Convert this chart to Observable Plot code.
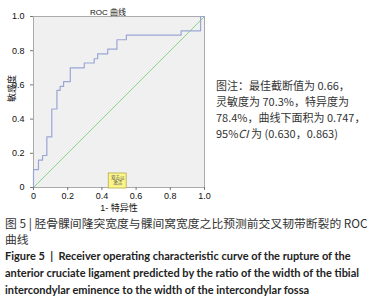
<!DOCTYPE html>
<html><head><meta charset="utf-8">
<script src="https://cdn.jsdelivr.net/npm/d3@7"></script>
<script src="https://cdn.jsdelivr.net/npm/@observablehq/plot@0.6"></script>
<style>
body{margin:0;background:#fff;width:388px;height:296px;overflow:hidden;position:relative;font-family:"Noto Sans CJK SC","Noto Sans",sans-serif;}
#chart{position:absolute;left:0;top:0;}
#note{position:absolute;left:216px;top:77px;font-size:11px;line-height:16px;color:#333;white-space:nowrap;}
#cap{position:absolute;left:5px;top:215px;font-size:11.8px;line-height:16px;color:#333;white-space:nowrap;}
#cap .en{font-family:Lato,"Noto Sans",sans-serif;font-weight:bold;font-size:11px;color:#222;}
</style></head>
<body>
<div id="chart"></div>
<div id="note">图注：最佳截断值为 0.66，<br>灵敏度为 70.3%，特异度为<br>78.4%，曲线下面积为 0.747，<br>95%<i>CI</i> 为 (0.630，0.863)</div>
<div id="cap">图 5 | 胫骨髁间隆突宽度与髁间窝宽度之比预测前交叉韧带断裂的 ROC<br>曲线<br><span class="en">Figure 5&nbsp; |&nbsp; Receiver operating characteristic curve of the rupture of the<br>anterior cruciate ligament predicted by the ratio of the width of the tibial<br>intercondylar eminence to the width of the intercondylar fossa</span></div>
<script>
// ROC step curve (1 - specificity, sensitivity)
const fpr = [0, 0, 0.029, 0.029, 0.053, 0.053, 0.078, 0.078, 0.107, 0.107, 0.137, 0.137, 0.156, 0.156, 0.176, 0.176, 0.215, 0.215, 0.297, 0.297, 0.355, 0.355, 0.375, 0.375, 0.434, 0.434, 0.488, 0.488, 0.543, 0.543, 0.863, 0.863, 0.977, 0.977, 1.0];
const tpr = [0, 0.105, 0.105, 0.16, 0.16, 0.187, 0.187, 0.296, 0.296, 0.459, 0.459, 0.568, 0.568, 0.591, 0.591, 0.619, 0.619, 0.70, 0.70, 0.728, 0.728, 0.753, 0.753, 0.782, 0.782, 0.809, 0.809, 0.864, 0.864, 0.891, 0.891, 0.916, 0.916, 1.0, 1.0];
const refX = [0, 1];
const refY = [0, 1];
const ticks = [0, 0.2, 0.4, 0.6, 0.8, 1.0];
const tickLabels = ["0", "0.2", "0.4", "0.6", "0.8", "1.0"];
const title = "ROC 曲线";
const xLabel = "1- 特异性";
const yLabel = "敏感度";
const badge = {x1: 0.44, x2: 0.545, y1: -0.006, y2: 0.082, line1: "双击以", line2: "激活", xm: 0.4925};

const roc = fpr.map((x, i) => ({x, y: tpr[i]}));
const ref = refX.map((x, i) => ({x, y: refY[i]}));
const fmt = d => tickLabels[ticks.indexOf(d)];

const plot = Plot.plot({
  width: 388, height: 212,
  marginLeft: 33, marginRight: 184, marginTop: 16, marginBottom: 25,
  style: {fontFamily: "'Liberation Sans','Noto Sans CJK SC',sans-serif", fontSize: "9px", color: "#111", background: "transparent"},
  x: {domain: [0, 1]},
  y: {domain: [0, 1]},
  marks: [
    Plot.frame({fill: "#f0f0f0", stroke: "#aaa"}),
    Plot.line(ref, {x: "x", y: "y", stroke: "#7ccf7c", strokeWidth: 0.9}),
    Plot.line(roc, {x: "x", y: "y", stroke: "#9aa6d4", strokeWidth: 1.2}),
    Plot.rect([badge], {x1: "x1", x2: "x2", y1: "y1", y2: "y2", fill: "#fbf58a", stroke: "#b4ab50", strokeWidth: 0.8}),
    Plot.text([badge], {x: "xm", y: "y2", text: "line1", dy: 4, fontSize: 4.5, fill: "#555"}),
    Plot.text([badge], {x: "xm", y: "y2", text: "line2", dy: 9.5, fontSize: 4.5, fill: "#555"}),
    Plot.axisX({ticks, tickFormat: fmt, tickSize: 3, tickPadding: 2, label: null, stroke: "#777"}),
    Plot.axisY({ticks, tickFormat: fmt, tickSize: 3, label: null, stroke: "#777"}),
    Plot.text([xLabel], {frameAnchor: "bottom", lineAnchor: "middle", text: d => d, dy: 21, fontSize: 9}),
    Plot.text([yLabel], {frameAnchor: "left", text: d => d, dx: -21, rotate: -90, fontSize: 9}),
    Plot.text([title], {frameAnchor: "top", text: d => d, dy: -7, dx: -11, fontSize: 8})
  ]
});
document.getElementById("chart").appendChild(plot);
</script>
</body></html>
